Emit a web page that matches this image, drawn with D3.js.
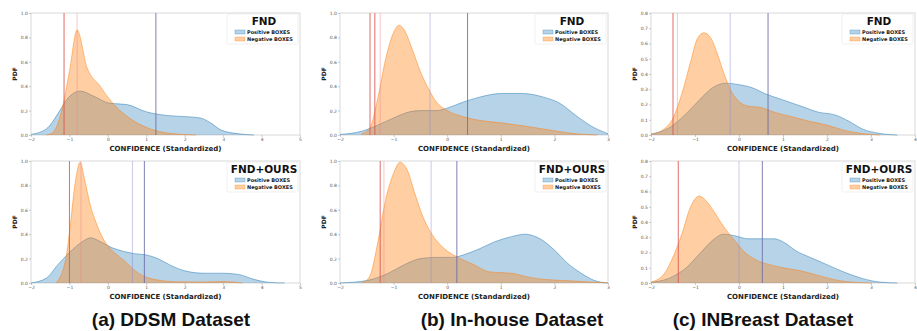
<!DOCTYPE html>
<html>
<head>
<meta charset="utf-8">
<script src="https://cdn.jsdelivr.net/npm/d3@7"></script>
<style>
  body { margin: 0; background: #fff; }
  svg { display: block; }
</style>
</head>
<body>
<div id="chart"></div>
<script>
// ---- data ----
const datasets = ["(a) DDSM Dataset", "(b) In-house Dataset", "(c) INBreast Dataset"];
const methods = ["FND", "FND+OURS"];
const seriesNames = ["Positive BOXES", "Negative BOXES"];

const xDomains = [[-2, 5], [-2, 3], [-2, 4]];
const yMaxes = [1.0, 1.0, 0.8];
const yTickSteps = [0.2, 0.2, 0.1];

// DDSM
const ddsmFndPosX = [-2, -1.6, -1.25, -1.07, -0.72, -0.38, 0.05, 0.49, 1.0, 1.54, 2.05, 2.4, 2.67, 2.95, 3.4, 3.8];
const ddsmFndPosY = [0.005, 0.05, 0.2, 0.29, 0.36, 0.32, 0.26, 0.25, 0.19, 0.16, 0.15, 0.14, 0.1, 0.04, 0.01, 0];
const ddsmFndNegX = [-1.6, -1.43, -1.2, -1.0, -0.8, -0.55, -0.2, 0.05, 0.65, 1.2, 1.7, 2.3];
const ddsmFndNegY = [0, 0.02, 0.2, 0.52, 0.86, 0.56, 0.4, 0.29, 0.12, 0.04, 0.01, 0];
const ddsmOursPosX = [-2, -1.6, -1.3, -1.0, -0.7, -0.45, -0.2, 0.1, 0.4, 0.7, 1.0, 1.3, 1.6, 2.0, 2.5, 3.0, 3.4, 3.8, 4.2, 4.6];
const ddsmOursPosY = [0, 0.04, 0.15, 0.25, 0.33, 0.37, 0.34, 0.29, 0.26, 0.24, 0.23, 0.2, 0.15, 0.1, 0.08, 0.08, 0.07, 0.03, 0.005, 0];
const ddsmOursNegX = [-1.35, -1.1, -1.0, -0.85, -0.72, -0.6, -0.45, -0.3, -0.1, 0.1, 0.4, 0.8, 1.2, 1.8, 2.5, 3.0, 3.5];
const ddsmOursNegY = [0, 0.19, 0.41, 0.82, 0.99, 0.84, 0.63, 0.49, 0.35, 0.27, 0.19, 0.08, 0.03, 0.01, 0.008, 0.012, 0];

// In-house
const houseFndPosX = [-2, -1.6, -1.3, -1.0, -0.7, -0.5, -0.2, 0, 0.3, 0.6, 1.0, 1.4, 1.8, 2.1, 2.4, 2.7, 3.0];
const houseFndPosY = [0.005, 0.03, 0.08, 0.14, 0.19, 0.2, 0.2, 0.22, 0.27, 0.31, 0.34, 0.34, 0.31, 0.26, 0.16, 0.07, 0.01];
const houseFndNegX = [-1.6, -1.45, -1.3, -1.15, -1.0, -0.9, -0.8, -0.65, -0.5, -0.35, -0.2, 0, 0.3, 0.6, 1.0, 1.5, 2.0, 2.4, 2.8];
const houseFndNegY = [0.01, 0.05, 0.29, 0.62, 0.84, 0.9, 0.86, 0.7, 0.52, 0.38, 0.27, 0.2, 0.15, 0.12, 0.1, 0.07, 0.035, 0.01, 0];
const houseOursPosX = [-2, -1.5, -1.1, -0.8, -0.5, -0.2, 0.1, 0.3, 0.6, 0.9, 1.2, 1.45, 1.7, 2.0, 2.25, 2.5, 2.75, 3.0];
const houseOursPosY = [0, 0.02, 0.08, 0.15, 0.2, 0.21, 0.21, 0.23, 0.28, 0.34, 0.38, 0.4, 0.37, 0.27, 0.16, 0.08, 0.02, 0];
const houseOursNegX = [-1.6, -1.45, -1.3, -1.15, -1.0, -0.88, -0.75, -0.6, -0.45, -0.3, -0.1, 0.2, 0.5, 0.8, 1.2, 1.5, 1.8, 2.2, 2.6, 3.0];
const houseOursNegY = [0, 0.05, 0.32, 0.68, 0.9, 0.99, 0.93, 0.73, 0.54, 0.41, 0.3, 0.21, 0.15, 0.09, 0.08, 0.05, 0.03, 0.02, 0.01, 0];

// INBreast
const inbFndPosX = [-2, -1.6, -1.2, -0.9, -0.6, -0.3, 0, 0.3, 0.6, 1.0, 1.4, 1.8, 2.2, 2.5, 2.8, 3.2, 3.6];
const inbFndPosY = [0.006, 0.045, 0.14, 0.23, 0.31, 0.34, 0.33, 0.31, 0.27, 0.23, 0.19, 0.15, 0.13, 0.09, 0.04, 0.01, 0];
const inbFndNegX = [-2, -1.7, -1.5, -1.3, -1.1, -0.95, -0.8, -0.65, -0.5, -0.35, -0.2, 0, 0.2, 0.5, 0.8, 1.2, 1.6, 2.0, 2.4, 2.8, 3.2];
const inbFndNegY = [0.004, 0.04, 0.11, 0.27, 0.48, 0.63, 0.67, 0.64, 0.54, 0.41, 0.3, 0.22, 0.19, 0.18, 0.15, 0.12, 0.09, 0.065, 0.03, 0.01, 0];
const inbOursPosX = [-2, -1.6, -1.2, -0.9, -0.6, -0.35, -0.1, 0.2, 0.5, 0.8, 1.0, 1.3, 1.6, 2.0, 2.4, 2.8, 3.2, 3.6];
const inbOursPosY = [0.004, 0.03, 0.1, 0.19, 0.28, 0.32, 0.31, 0.29, 0.29, 0.29, 0.27, 0.21, 0.17, 0.12, 0.07, 0.03, 0.006, 0];
const inbOursNegX = [-2, -1.7, -1.5, -1.3, -1.1, -0.9, -0.75, -0.55, -0.35, -0.1, 0.1, 0.4, 0.7, 1.0, 1.4, 1.8, 2.2, 2.6, 3.0];
const inbOursNegY = [0.005, 0.06, 0.17, 0.32, 0.5, 0.57, 0.54, 0.46, 0.37, 0.28, 0.21, 0.15, 0.12, 0.1, 0.08, 0.05, 0.02, 0.005, 0];

// vertical marker lines: [strong red, faint red, faint blue, strong blue]
const ddsmFndRed = [-1.14], ddsmFndRedFaint = [-0.8], ddsmFndBlueFaint = [], ddsmFndBlue = [1.25];
const ddsmOursRed = [-1.0], ddsmOursRedFaint = [-0.7], ddsmOursBlueFaint = [0.64], ddsmOursBlue = [0.95];
const houseFndRed = [-1.44, -1.35], houseFndRedFaint = [-1.25], houseFndBlueFaint = [-0.32], houseFndBlue = [0.38];
const houseOursRed = [-1.25], houseOursRedFaint = [-1.18], houseOursBlueFaint = [-0.3], houseOursBlue = [0.18];
const inbFndRed = [-1.5], inbFndRedFaint = [-1.4], inbFndBlueFaint = [-0.2], inbFndBlue = [0.66];
const inbOursRed = [-1.38], inbOursRedFaint = [], inbOursBlueFaint = [0.0], inbOursBlue = [0.53];

const panels = [
  [ // column a
    { pos: [ddsmFndPosX, ddsmFndPosY], neg: [ddsmFndNegX, ddsmFndNegY], lines: [ddsmFndRed, ddsmFndRedFaint, ddsmFndBlueFaint, ddsmFndBlue] },
    { pos: [ddsmOursPosX, ddsmOursPosY], neg: [ddsmOursNegX, ddsmOursNegY], lines: [ddsmOursRed, ddsmOursRedFaint, ddsmOursBlueFaint, ddsmOursBlue] }
  ],
  [ // column b
    { pos: [houseFndPosX, houseFndPosY], neg: [houseFndNegX, houseFndNegY], lines: [houseFndRed, houseFndRedFaint, houseFndBlueFaint, houseFndBlue] },
    { pos: [houseOursPosX, houseOursPosY], neg: [houseOursNegX, houseOursNegY], lines: [houseOursRed, houseOursRedFaint, houseOursBlueFaint, houseOursBlue] }
  ],
  [ // column c
    { pos: [inbFndPosX, inbFndPosY], neg: [inbFndNegX, inbFndNegY], lines: [inbFndRed, inbFndRedFaint, inbFndBlueFaint, inbFndBlue] },
    { pos: [inbOursPosX, inbOursPosY], neg: [inbOursNegX, inbOursNegY], lines: [inbOursRed, inbOursRedFaint, inbOursBlueFaint, inbOursBlue] }
  ]
];

// ---- layout ----
const width = 917, height = 331;
const colX = [[31, 300], [340, 608], [651, 915]];
const rowY = [[13, 135], [161, 283]];
const captionX = [171, 512, 763];
const lineStyles = [
  { color: "#d9534f", opacity: 0.85 },
  { color: "#e8828a", opacity: 0.45 },
  { color: "#8a8ad0", opacity: 0.45 },
  { color: "#6a6aa8", opacity: 0.85 }
];
const posColor = "#1f77b4", negColor = "#ff7f0e";

const svg = d3.select("#chart").append("svg")
  .attr("width", width)
  .attr("height", height)
  .style("font-family", "'DejaVu Sans', sans-serif");

panels.forEach((col, ci) => {
  col.forEach((p, ri) => {
    const [x0, x1] = colX[ci], [y0, y1] = rowY[ri];
    const x = d3.scaleLinear().domain(xDomains[ci]).range([x0, x1]);
    const y = d3.scaleLinear().domain([0, yMaxes[ci]]).range([y1, y0]);
    const g = svg.append("g");

    // spines
    g.append("rect")
      .attr("x", x0).attr("y", y0)
      .attr("width", x1 - x0).attr("height", y1 - y0)
      .attr("fill", "none")
      .attr("stroke", "#cfcfcf")
      .attr("stroke-width", 0.8);

    // kde areas, positive first, negative on top
    [[p.pos, posColor, 0.32], [p.neg, negColor, 0.38]].forEach(([s, c, op]) => {
      const pts = s[0].map((v, i) => [v, s[1][i]]);
      g.append("path")
        .datum(pts)
        .attr("d", d3.area().x(d => x(d[0])).y0(y(0)).y1(d => y(d[1])).curve(d3.curveMonotoneX))
        .attr("fill", c)
        .attr("fill-opacity", op);
      g.append("path")
        .datum(pts)
        .attr("d", d3.line().x(d => x(d[0])).y(d => y(d[1])).curve(d3.curveMonotoneX))
        .attr("fill", "none")
        .attr("stroke", c)
        .attr("stroke-opacity", 0.6)
        .attr("stroke-width", 0.8);
    });

    // vertical markers
    p.lines.forEach((vals, li) => {
      vals.forEach(v => {
        g.append("line")
          .attr("x1", x(v)).attr("x2", x(v))
          .attr("y1", y0).attr("y2", y1)
          .attr("stroke", lineStyles[li].color)
          .attr("stroke-opacity", lineStyles[li].opacity)
          .attr("stroke-width", 1);
      });
    });

    // axes
    const xAxis = d3.axisBottom(x).ticks(xDomains[ci][1] - xDomains[ci][0]).tickSize(2).tickPadding(1)
      .tickFormat(d => d < 0 ? "\u2212" + Math.abs(d) : d);
    const yTicks = d3.range(0, yMaxes[ci] + 1e-9, yTickSteps[ci]);
    const yAxis = d3.axisLeft(y).tickValues(yTicks).tickSize(2).tickPadding(1).tickFormat(d3.format(".1f"));
    const ax = g.append("g").attr("transform", `translate(0,${y1})`).call(xAxis);
    const ay = g.append("g").attr("transform", `translate(${x0},0)`).call(yAxis);
    [ax, ay].forEach(a => {
      a.select(".domain").remove();
      a.selectAll("line").attr("stroke", "#999").attr("stroke-width", 0.5);
      a.selectAll("text").attr("font-size", 4.5).attr("fill", "#555").attr("font-family", "'DejaVu Sans', sans-serif");
    });

    // axis titles
    g.append("text")
      .attr("x", (x0 + x1) / 2).attr("y", y1 + 16)
      .attr("text-anchor", "middle")
      .attr("font-size", 7).attr("font-weight", "bold").attr("fill", "#222")
      .text("CONFIDENCE (Standardized)");
    g.append("text")
      .attr("transform", `translate(${x0 - 14},${(y0 + y1) / 2}) rotate(-90)`)
      .attr("text-anchor", "middle")
      .attr("font-size", 6).attr("font-weight", "bold").attr("fill", "#222")
      .text("PDF");

    // legend
    const lg = g.append("g").attr("transform", `translate(${x1},${y0})`);
    lg.append("rect")
      .attr("x", -73).attr("y", 1).attr("width", 71).attr("height", 30)
      .attr("fill", "#fff").attr("fill-opacity", 0.8)
      .attr("stroke", "#e6e6e6").attr("stroke-width", 0.6).attr("rx", 1.5);
    lg.append("text")
      .attr("x", -36).attr("y", 12)
      .attr("text-anchor", "middle")
      .attr("font-size", 10.5).attr("font-weight", "bold").attr("fill", "#111")
      .text(methods[ri]);
    seriesNames.forEach((name, si) => {
      const yy = 19 + si * 7;
      lg.append("rect")
        .attr("x", -65).attr("y", yy - 2).attr("width", 10).attr("height", 4)
        .attr("fill", si === 0 ? posColor : negColor).attr("fill-opacity", si === 0 ? 0.32 : 0.38)
        .attr("stroke", si === 0 ? posColor : negColor).attr("stroke-opacity", 0.6).attr("stroke-width", 0.5);
      lg.append("text")
        .attr("x", -53).attr("y", yy + 1.7)
        .attr("font-size", 5).attr("font-weight", "bold").attr("fill", "#222")
        .text(name);
    });
  });

  // dataset caption
  svg.append("text")
    .attr("x", captionX[ci]).attr("y", 326)
    .attr("text-anchor", "middle")
    .attr("font-family", "'Liberation Sans', Arial, sans-serif")
    .attr("font-size", 19).attr("font-weight", "bold").attr("fill", "#111")
    .text(datasets[ci]);
});
</script>
</body>
</html>
